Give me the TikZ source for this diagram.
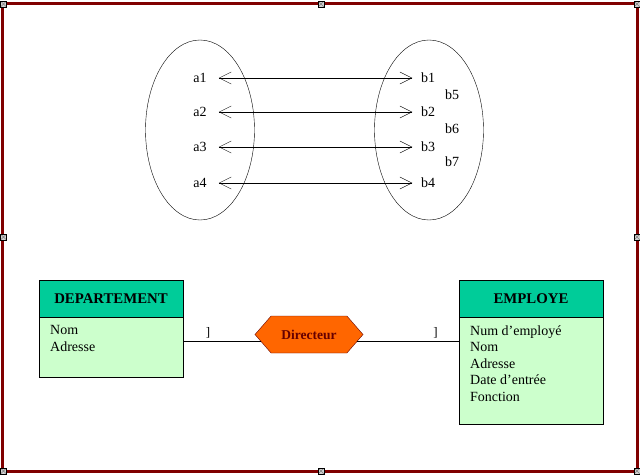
\documentclass[tikz,border=0pt]{standalone}
\usepackage{fontspec}
\setmainfont{Liberation Serif}
\usetikzlibrary{shapes.geometric,shapes.symbols,arrows.meta}
\definecolor{cadre}{RGB}{128,0,0}
\definecolor{tete}{RGB}{0,204,153}
\definecolor{corps}{RGB}{204,255,204}
\definecolor{assoc}{RGB}{255,102,0}
\begin{document}
\begin{tikzpicture}[x=1pt,y=-1pt,
  set/.style={ellipse,draw,minimum width=109pt,minimum height=180pt},
  elt/.style={inner sep=0pt,font=\fontsize{14}{16}\selectfont},
  pair/.style={{Straight Barb[length=12pt,width=12pt]}-{Straight Barb[length=12pt,width=12pt]},shorten <=12pt,shorten >=8.5pt},
  head/.style={draw,fill=tete,minimum width=144pt,minimum height=37pt,inner sep=0pt,font=\fontsize{14.8}{16}\selectfont\bfseries},
  body/.style={draw,fill=corps,minimum width=144pt,inner sep=0pt},
  attr/.style={anchor=north west,inner sep=0pt,align=left,font=\fontsize{14}{16.5}\selectfont},
  card/.style={above,inner sep=3pt,font=\fontsize{13}{14}\selectfont},
  handle/.style={draw,fill=gray!35,minimum size=6pt,inner sep=0pt,
    path picture={\draw[gray] (path picture bounding box.south west)--(path picture bounding box.north east)
      (path picture bounding box.north west)--(path picture bounding box.south east);}}]
\useasboundingbox (0,0) rectangle (640,474);
\draw[cadre,line width=3pt] (2,3.5) rectangle (637.5,471);
% the two sets
\node[set] (seta) at (200,130) {};
\node[set] (setb) at (429,130) {};
\foreach \i/\y in {1/78,2/112,3/147,4/183}{
  \node[elt] (a\i) at (200,\y) {a\i};
  \node[elt] (b\i) at (428,\y) {b\i};
  \draw[pair] (a\i.east)--(b\i.west);}
\foreach \i/\y in {5/95,6/129,7/162}{\node[elt] (b\i) at (452,\y) {b\i};}
% entities
\node[head] (dhead) at (111,298.5) {DEPARTEMENT};
\node[body,minimum height=60pt,anchor=north] (dbody) at (dhead.south) {};
\node[attr] (dattr) at (50,325.5) {Nom\\Adresse};
\node[head] (ehead) at (531,298.5) {EMPLOYE};
\node[body,minimum height=107pt,anchor=north] (ebody) at (ehead.south) {};
\node[attr] (eattr) at (470,325.5) {Num d’employé\\Nom\\Adresse\\Date d’entrée\\Fonction};
% association
\node[signal,signal to=west and east,signal pointer angle=98,draw=black!60!red,fill=assoc,
  minimum width=108pt,minimum height=37pt,inner sep=0pt,text=black!60!red,
  font=\fontsize{13.5}{14}\selectfont\bfseries] (dir) at (309,334.5) {Directeur};
\draw (dir.188 -| dbody.east)--node[card,pos=.32]{]}(dir.188);
\draw (dir.352)--node[card,pos=.77]{]}(dir.352 -| ebody.west);
\foreach \p in {(3.5,4),(321,4),(637,4),(3.5,237),(637,237),(3.5,471),(321,471),(637,471)}
  \node[handle] at \p {};
\end{tikzpicture}
\end{document}
